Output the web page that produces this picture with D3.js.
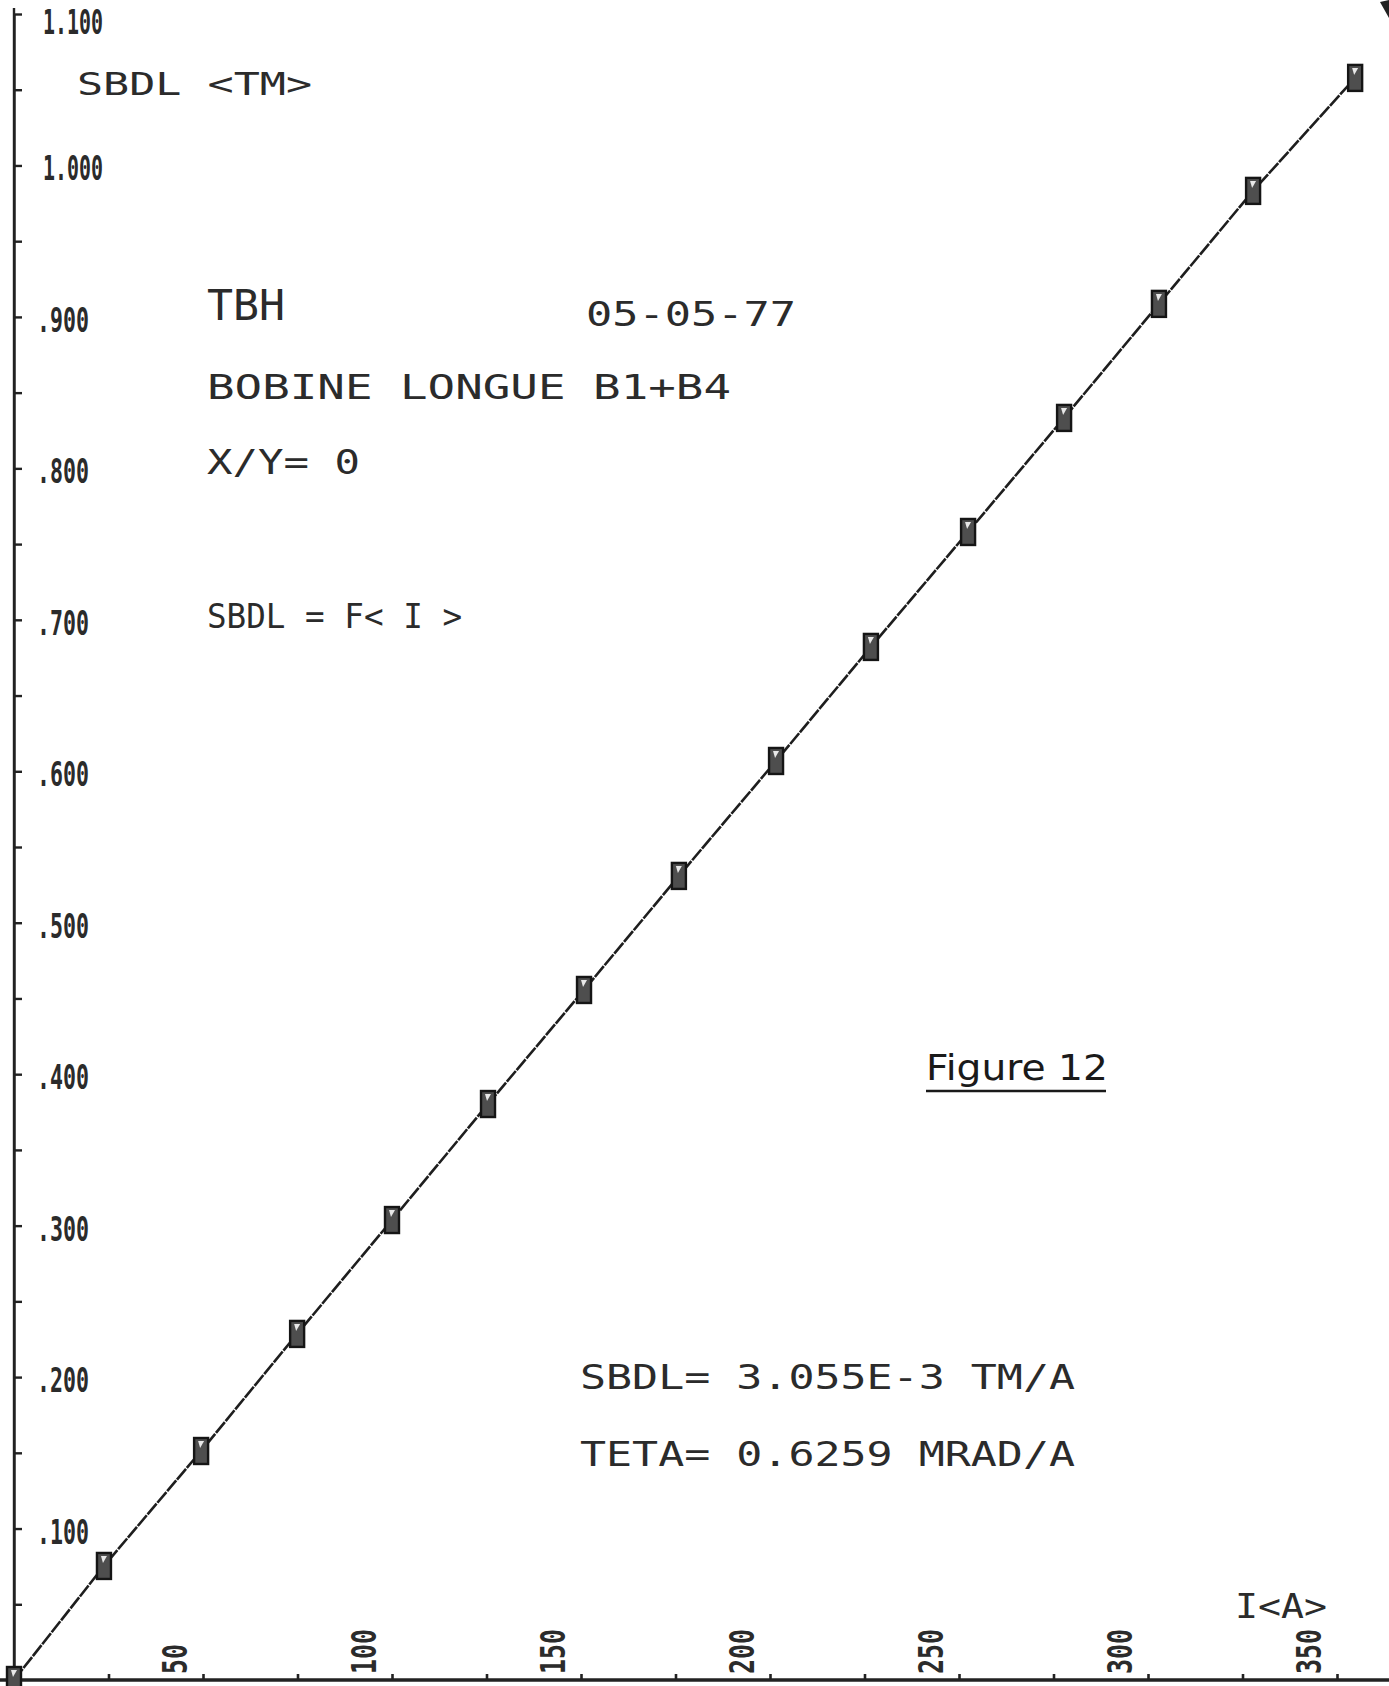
<!DOCTYPE html>
<html>
<head>
<meta charset="utf-8">
<script src="https://cdn.jsdelivr.net/npm/d3@7"></script>
<style>
  body { margin: 0; background: #fff; }
  svg { display: block; }
  .plot { font-family: "DejaVu Sans Mono", monospace; fill: #2b2b2b; }
</style>
</head>
<body>
<div class="container"></div>
<script>
// SBDL vs current

var currentA = [0, 23.8, 49.5, 74.9, 100, 125.4, 150.8, 175.9, 201.6, 226.7, 252.4, 277.8, 302.9, 327.8, 354.8]
var sbdlTM = [0, 0.0753, 0.1512, 0.2285, 0.3037, 0.3803, 0.4556, 0.5309, 0.6068, 0.6821, 0.7580, 0.8333, 0.9086, 0.9832, 1.0578]

var yTickValues = [0.1, 0.2, 0.3, 0.4, 0.5, 0.6, 0.7, 0.8, 0.9, 1.0, 1.1]
var yTickLabels = ['.100', '.200', '.300', '.400', '.500', '.600', '.700', '.800', '.900', '1.000', '1.100']
var xTickValues = [50, 100, 150, 200, 250, 300, 350]
var xTickLabels = ['50', '100', '150', '200', '250', '300', '350']

var chart = {
  width: 1389,
  height: 1686,
  x0: 14,
  y0: 1680
}

var svg = d3.select('.container').append('svg')
  .attr('width', chart.width)
  .attr('height', chart.height)

var x = d3.scaleLinear().domain([0, 350]).range([chart.x0, 1337])
var y = d3.scaleLinear().domain([0, 1.1]).range([chart.y0, 14])

// minor ticks every .05 on y, every 25 A on x
var yTicks = d3.range(1, 23).map(function (i) { return i * 0.05 })
var xTicks = d3.range(1, 15).map(function (i) { return i * 25 })

var yAxis = svg.append('g')
  .attr('transform', 'translate(' + chart.x0 + ',0)')
  .call(d3.axisRight(y).tickValues(yTicks).tickSize(8).tickSizeOuter(0).tickFormat(''))
yAxis.selectAll('path, line').attr('stroke', '#222').attr('stroke-width', 2.4)

var xAxis = svg.append('g')
  .attr('transform', 'translate(0,' + chart.y0 + ')')
  .call(d3.axisTop(x).tickValues(xTicks).tickSize(6).tickSizeOuter(0).tickFormat(''))
xAxis.select('.domain').remove()
xAxis.selectAll('line').attr('stroke', '#222').attr('stroke-width', 2.6)

svg.append('line')
  .attr('x1', 0).attr('x2', chart.width)
  .attr('y1', chart.y0).attr('y2', chart.y0)
  .attr('stroke', '#222').attr('stroke-width', 3.5)

svg.append('line')
  .attr('x1', chart.x0).attr('x2', chart.x0)
  .attr('y1', 8).attr('y2', chart.y0)
  .attr('stroke', '#222').attr('stroke-width', 2.4)

// y tick labels (overstruck plotter digits), top one kept inside the sheet
svg.selectAll('.ylab').data(yTickValues).enter().append('text')
  .attr('class', 'plot ylab')
  .attr('x', function (d, i) { return yTickLabels[i].length > 4 ? 43 : 37 })
  .attr('y', function (d) { return Math.max(y(d) + 15, 34) })
  .attr('font-size', 33)
  .attr('font-weight', 'bold')
  .attr('textLength', function (d, i) { return yTickLabels[i].length > 4 ? 60 : 52 })
  .attr('lengthAdjust', 'spacingAndGlyphs')
  .text(function (d, i) { return yTickLabels[i] })

// x tick labels, rotated, left of their tick
svg.selectAll('.xlab').data(xTickValues).enter().append('text')
  .attr('class', 'plot xlab')
  .attr('transform', function (d) { return 'translate(' + (x(d) - 16) + ',1674) rotate(-90)' })
  .attr('font-size', 33)
  .attr('font-weight', 'bold')
  .attr('textLength', function (d, i) { return xTickLabels[i].length * 15 })
  .attr('lengthAdjust', 'spacingAndGlyphs')
  .text(function (d, i) { return xTickLabels[i] })

var points = currentA.map(function (d, i) { return {i: d, v: sbdlTM[i]} })

// plotted line
svg.append('path')
  .datum(points)
  .attr('fill', 'none')
  .attr('stroke', '#1e1e1e')
  .attr('stroke-width', 2.6)
  .attr('stroke-dasharray', '14,1.2')
  .attr('d', d3.line().x(function (d) { return x(d.i) }).y(function (d) { return y(d.v) }))

// markers
var marks = svg.selectAll('.mark').data(points).enter().append('g')
  .attr('transform', function (d) { return 'translate(' + x(d.i) + ',' + y(d.v) + ')' })
marks.append('rect')
  .attr('x', -7).attr('y', -13).attr('width', 14).attr('height', 26)
  .attr('fill', '#4e4e4e').attr('stroke', '#151515').attr('stroke-width', 2.4)
marks.append('path')
  .attr('d', 'M-3,-10 L3,-10 L-1,-3 Z')
  .attr('fill', '#e8e8e8')

// annotations
var notes = [
  {t: 'SBDL <TM>', x: 77, y: 95, s: 32, w: 235},
  {t: 'TBH', x: 207, y: 320, s: 42, w: 78},
  {t: '05-05-77', x: 586, y: 326, s: 33, w: 210},
  {t: 'BOBINE LONGUE  B1+B4', x: 207, y: 399, s: 33, w: 524},
  {t: 'X/Y= 0', x: 207, y: 474, s: 33, w: 153},
  {t: 'SBDL = F< I >', x: 207, y: 628, s: 33, w: 255},
  {t: 'SBDL= 3.055E-3 TM/A', x: 580, y: 1389, s: 33, w: 495},
  {t: 'TETA= 0.6259 MRAD/A', x: 580, y: 1466, s: 33, w: 495},
  {t: 'I<A>', x: 1235, y: 1618, s: 33, w: 92}
]
svg.selectAll('.note').data(notes).enter().append('text')
  .attr('class', 'plot note')
  .attr('x', function (d) { return d.x })
  .attr('y', function (d) { return d.y })
  .attr('font-size', function (d) { return d.s })
  .attr('textLength', function (d) { return d.w })
  .attr('lengthAdjust', 'spacingAndGlyphs')
  .text(function (d) { return d.t })

// handwritten caption
svg.append('text')
  .attr('x', 926).attr('y', 1080)
  .attr('font-family', 'DejaVu Sans, sans-serif')
  .attr('font-size', 36)
  .attr('fill', '#1a1a1a')
  .attr('textLength', 182)
  .attr('lengthAdjust', 'spacingAndGlyphs')
  .text('Figure 12')
svg.append('line')
  .attr('x1', 926).attr('x2', 1106).attr('y1', 1091).attr('y2', 1091)
  .attr('stroke', '#1a1a1a').attr('stroke-width', 2.5)

// corner mark of the sheet
svg.append('path')
  .attr('d', 'M1380,2 L1389,0 L1389,18 Z')
  .attr('fill', '#222')
</script>
</body>
</html>
